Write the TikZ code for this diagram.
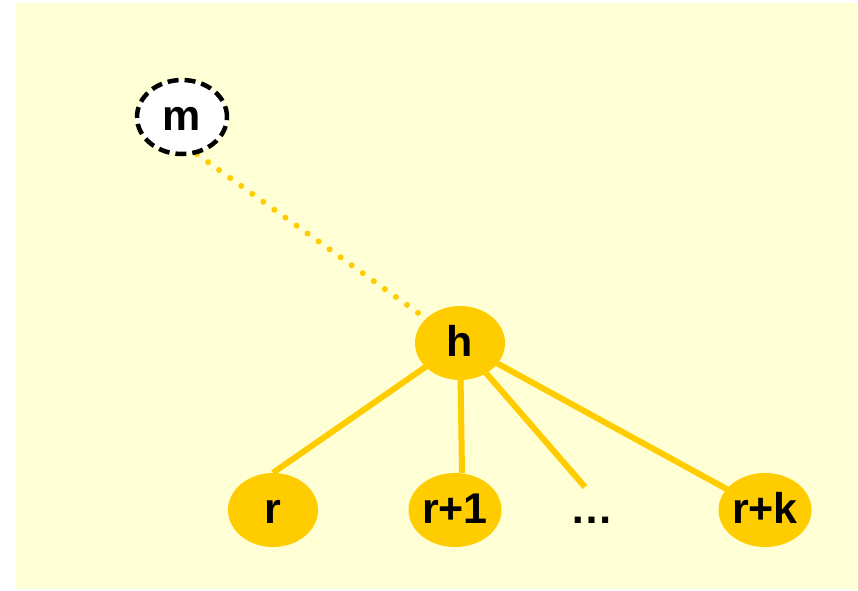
\documentclass[tikz,border=0pt]{standalone}
\usepackage{fontspec}
\setmainfont{Liberation Sans}
\usetikzlibrary{shapes.geometric}
\definecolor{paper}{HTML}{FFFFD5}
\definecolor{gold}{HTML}{FFCC00}
\pgfdeclarelayer{back}
\pgfdeclarelayer{links}
\pgfsetlayers{back,links,main}
\tikzset{
  label font/.style={font=\bfseries\fontsize{43}{45}\selectfont, text height=27pt, text depth=0pt},
  vertex/.style={ellipse, fill=gold, inner sep=0pt, minimum width=90pt, minimum height=74pt, label font},
  ghost/.style={vertex, fill=white, draw=black, line width=4.5pt, dash pattern=on 11pt off 6pt},
  edge/.style={draw=gold, line width=6pt},
  hint/.style={draw=gold, line width=6pt, line cap=round, dash pattern=on 0pt off 13.6pt}
}
\begin{document}
\begin{tikzpicture}[x=1pt, y=-1pt]
  \useasboundingbox (0,0) rectangle (858,590);
  \begin{pgfonlayer}{back}
    \fill[paper] (16,3) rectangle (858,589);
  \end{pgfonlayer}

  % tree nodes
  \node[ghost]  (m)  at (182,117) {m};
  \node[vertex] (h)  at (460,343) {h};
  \node[vertex] (r)  at (273,510) {r};
  \node[vertex] (r1) at (455,510) {r+1};
  \node[label font, inner sep=0pt] (dots) at (592,510) {…};
  \node[vertex] (rk) at (765,510) {r+k};
  \coordinate (dotsend) at (585,487);

  % connectors, kept under the nodes
  \begin{pgfonlayer}{links}
    \draw[hint] (m.-68) -- (h.center);
    \draw[edge] (h.center) -- (r.north);
    \draw[edge] (h.center) -- ([xshift=7pt]r1.north);
    \draw[edge] (h.center) -- (dotsend);
    \draw[edge] (h.center) -- (rk.center);
  \end{pgfonlayer}
\end{tikzpicture}
\end{document}
